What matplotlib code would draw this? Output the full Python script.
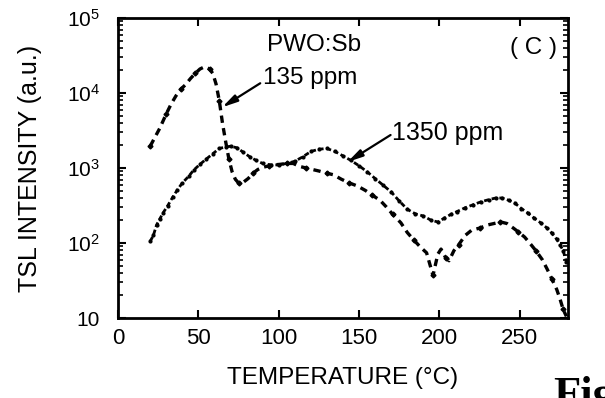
import matplotlib
matplotlib.use("Agg")
import matplotlib.pyplot as plt
import numpy as np

plt.rcParams['font.family'] = ['Liberation Sans', 'DejaVu Sans']
plt.rcParams['mathtext.fontset'] = 'custom'
plt.rcParams['mathtext.rm'] = 'Liberation Sans'

# ---- data ----
t_135 = [20, 23, 26, 30, 33, 36, 39, 42, 45, 48, 51, 54, 57, 59, 61, 63, 65, 67, 69, 71,
         73, 75, 78, 81, 84, 87, 90, 94, 97, 101, 105, 109, 113, 117, 121, 125, 130, 134,
         139, 144, 149, 154, 158, 163, 167, 171, 176, 180, 184, 188, 192, 196, 199, 201,
         204, 206, 209, 212, 216, 220, 225, 230, 234, 238, 242, 246, 249, 253, 257, 260,
         264, 267, 270, 273, 275, 277, 279]
i_135 = [1950, 2570, 3390, 5250, 7080, 9120, 11200, 12900, 15500, 18200, 20900, 22400,
         20900, 18200, 13200, 7940, 3980, 2240, 1320, 891, 708, 631, 646, 724, 851, 955,
         1020, 1070, 1100, 1120, 1150, 1150, 1050, 1000, 955, 912, 851, 813, 708, 631, 575,
         501, 437, 372, 302, 240, 186, 138, 110, 89, 74, 37, 71, 83, 63, 58, 79, 95, 126,
         148, 158, 174, 182, 191, 182, 158, 141, 120, 95, 79, 60, 45, 33, 24, 18, 13, 10.5]

t_1350 = [20, 22, 24, 26, 28, 31, 34, 37, 40, 44, 47, 51, 55, 59, 63, 67, 70, 74, 78, 82,
          86, 90, 95, 100, 105, 110, 115, 120, 125, 130, 135, 140, 145, 150, 155, 160, 165,
          170, 175, 180, 185, 190, 195, 199, 203, 207, 211, 216, 221, 226, 231, 235, 239,
          243, 247, 251, 255, 259, 263, 267, 270, 273, 275, 277, 279]
i_1350 = [105, 126, 174, 209, 251, 316, 407, 513, 631, 776, 933, 1120, 1320, 1550, 1820,
          1910, 1950, 1860, 1620, 1410, 1260, 1150, 1100, 1100, 1150, 1230, 1410, 1660, 1780,
          1820, 1660, 1450, 1260, 1070, 891, 724, 589, 479, 363, 282, 245, 229, 200, 191,
          214, 240, 263, 295, 324, 355, 380, 398, 398, 372, 339, 288, 251, 214, 186, 158,
          135, 112, 95, 79, 56]

x_ticks = [0, 50, 100, 150, 200, 250]
y_ticks = [10, 100, 1000, 10000, 100000]
y_tick_labels = ['10', r'$\mathregular{10^2}$', r'$\mathregular{10^3}$',
                 r'$\mathregular{10^4}$', r'$\mathregular{10^5}$']

fig = plt.figure(figsize=(6.05, 3.98), dpi=100)
ax = fig.add_axes([118/605, 1-318/398, 450/605, 300/398])

ax.plot(t_135, i_135, color='black', lw=2.4, linestyle=(0, (2.2, 1.6)),
        marker='D', markersize=2.5, markevery=3)
ax.plot(t_1350, i_1350, color='black', lw=2.0, linestyle=(0, (1.8, 1.0)),
        marker='o', markersize=2.0)

ax.set_yscale('log')
ax.set_xlim(0, 280)
ax.set_ylim(10, 1e5)
ax.set_xticks(x_ticks)
ax.set_xticklabels([str(v) for v in x_ticks], fontsize=16)
ax.set_yticks(y_ticks)
ax.set_yticklabels(y_tick_labels, fontsize=15)

for s in ax.spines.values():
    s.set_linewidth(2.0)
ax.tick_params(axis='both', which='major', direction='in', length=6, width=1.5,
               top=True, right=True)
ax.tick_params(axis='y', which='minor', direction='in', length=3.5, width=1.2,
               left=True, right=True)
ax.tick_params(axis='x', which='major', pad=7)
ax.tick_params(axis='y', which='major', pad=13)

ax.set_xlabel('TEMPERATURE (°C)', fontsize=17.5, labelpad=13)
ax.set_ylabel('TSL INTENSITY (a.u.)', fontsize=18, labelpad=18)

ax.text(92.9, 10**4.64, 'PWO:Sb', fontsize=17.5, va='center', ha='left')
ax.text(244, 10**4.6, '( C )', fontsize=17.5, va='center', ha='left')
ax.text(90.4, 10**4.2, '135 ppm', fontsize=17.5, va='center', ha='left')
ax.text(170.8, 10**3.47, '1350 ppm', fontsize=18, va='center', ha='left')

arrow = dict(arrowstyle='-|>,head_length=0.9,head_width=0.22', lw=1.6, color='black',
             shrinkA=0, shrinkB=0)
ax.annotate('', xy=(64.8, 10**3.81), xytext=(88.5, 10**4.13), arrowprops=arrow)
ax.annotate('', xy=(142.8, 10**3.08), xytext=(169.6, 10**3.44), arrowprops=arrow)

fig.text(553/605, 1-407/398, 'Fig.', fontsize=32, fontweight='bold',
         family='Liberation Serif', ha='left', va='baseline')

fig.savefig('out.png', dpi=100)
